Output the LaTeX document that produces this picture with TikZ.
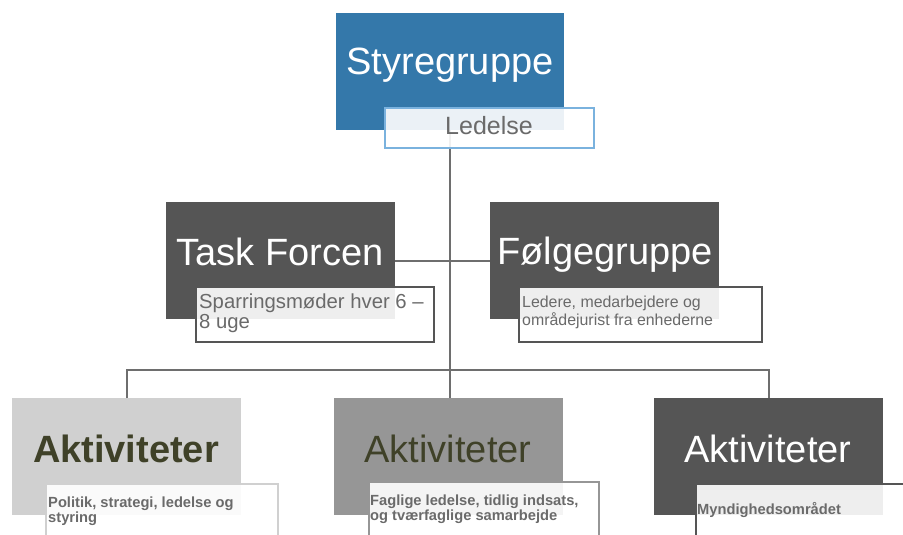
\documentclass[tikz,border=0pt]{standalone}
\usepackage{fontspec}
\setmainfont{Liberation Sans}
\definecolor{blueS}{HTML}{3478AA}
\definecolor{ledB}{HTML}{7AB2DE}
\definecolor{darkG}{HTML}{555555}
\definecolor{midG}{HTML}{969696}
\definecolor{lightG}{HTML}{D0D0D0}
\definecolor{olive}{HTML}{3F4128}
\definecolor{subT}{HTML}{6A6A6A}
\definecolor{connC}{HTML}{6E6E6E}
\begin{document}
\begin{tikzpicture}[x=1pt,y=-1pt,
  mainbox/.style={draw=none, inner sep=0pt, anchor=north west},
  subbox/.style={fill=white, fill opacity=0.9, line width=1.6pt, inner sep=0pt, anchor=north west},
  bigtext/.style={anchor=base, inner sep=0pt, font=\fontsize{38}{44}\selectfont},
  subtext/.style={anchor=base west, inner sep=0pt, align=left, text=subT},
  conn/.style={draw=connC, line width=2pt}]
\useasboundingbox (0,0) rectangle (903,535);
\clip (0,0) rectangle (903,535);

% connector skeleton
\coordinate (hl) at (0,370);
\coordinate (sty-bot) at (450,130);
\coordinate (b2top) at (450,398);

% main boxes
\node[mainbox, fill=blueS, minimum width=228pt, minimum height=117pt] (sty) at (336,13) {};
\node[mainbox, fill=darkG, minimum width=229pt, minimum height=117pt] (task) at (166,202) {};
\node[mainbox, fill=darkG, minimum width=229pt, minimum height=117pt] (folg) at (490,202) {};
\node[mainbox, fill=lightG, minimum width=229pt, minimum height=117pt] (b1) at (12,398) {};
\node[mainbox, fill=midG, minimum width=229pt, minimum height=117pt] (b2) at (334,398) {};
\node[mainbox, fill=darkG, minimum width=229pt, minimum height=117pt] (b3) at (654,398) {};

% connectors
\draw[conn] (sty-bot) -- (b2top);
\draw[conn] (task.east) -- (folg.west);
\draw[conn] (b1.north) -- (b1.north |- hl) -- (b3.north |- hl) -- (b3.north);

% main texts
\node[bigtext, text=white] (styT) at (450,75) {Styregruppe};
\node[bigtext, text=white] (taskT) at (280,265) {Task Forcen};
\node[bigtext, text=white] (folgT) at (605,264) {Følgegruppe};
\node[bigtext, text=olive, font=\fontsize{38}{44}\selectfont\bfseries] (b1T) at (126,462) {Aktiviteter};
\node[bigtext, text=olive] (b2T) at (448,462) {Aktiviteter};
\node[bigtext, text=white] (b3T) at (768,462) {Aktiviteter};

% sub boxes
\node[subbox, draw=ledB, minimum width=209pt, minimum height=40pt] (led) at (384,107) {};
\node[subbox, draw=darkG, minimum width=238pt, minimum height=55pt] (taskS) at (195,286) {};
\node[subbox, draw=darkG, minimum width=243pt, minimum height=55pt] (folgS) at (518,286) {};
\node[subbox, draw=lightG, minimum width=232pt, minimum height=60pt] (b1S) at (45,483) {};
\node[subbox, draw=midG, minimum width=230pt, minimum height=60pt] (b2S) at (368,481) {};
\node[subbox, draw=darkG, minimum width=240pt, minimum height=60pt] (b3S) at (695,483) {};

% sub texts
\node[anchor=base, inner sep=0pt, text=subT, font=\fontsize{25}{30}\selectfont] (ledT) at (489,135) {Ledelse};
\node[subtext, font=\fontsize{20.3}{20}\selectfont] (taskST) at (199,328) {Sparringsmøder hver 6 –\\8 uge};
\node[subtext, font=\fontsize{15.9}{15}\selectfont] (folgST) at (522,325) {Ledere, medarbejdere og\\områdejurist  fra enhederne};
\node[subtext, font=\fontsize{14.7}{15}\selectfont\bfseries] (b1ST) at (48,522) {Politik, strategi, ledelse og\\styring};
\node[subtext, font=\fontsize{14.7}{13}\selectfont\bfseries] (b2ST) at (370,520) {Faglige ledelse, tidlig indsats,\\og tværfaglige samarbejde};
\node[subtext, font=\fontsize{14.7}{15}\selectfont\bfseries] (b3ST) at (697,514) {Myndighedsområdet};
\end{tikzpicture}
\end{document}
